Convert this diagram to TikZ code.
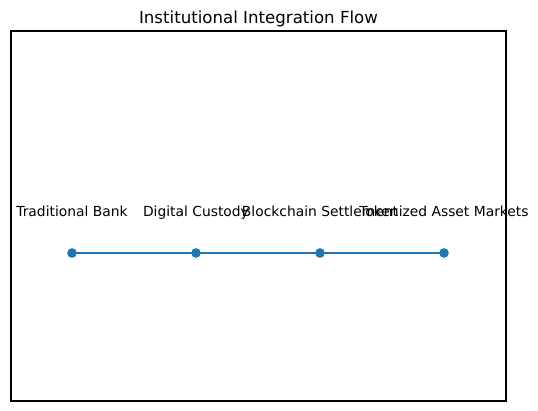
\documentclass[tikz,border=0pt]{standalone}
\usepackage{fontspec}
\setmainfont{DejaVu Sans}
\usepackage{xcolor}
\usetikzlibrary{positioning}
\definecolor{flowblue}{RGB}{31,119,180}
\tikzset{
  stage/.style={circle, fill=flowblue, inner sep=0pt, minimum size=7pt},
  stagelabel/.style={anchor=base, inner sep=0pt, font=\fontsize{10}{12}\selectfont},
  flowline/.style={line width=1.5pt, flowblue},
  axesframe/.style={draw=black, line width=0.8pt}
}
\begin{document}
\begin{tikzpicture}[x=0.01in, y=-0.01in]
  \useasboundingbox (0,0) rectangle (538,411);
  % axes box and title
  \draw[axesframe] (11,31) rectangle (506,401);
  \node[anchor=base, inner sep=0pt, font=\fontsize{12}{14}\selectfont] (title) at (258.5,24) {Institutional Integration Flow};

  % integration stages
  \node[stage] (bank) at (72,253) {};
  \node[stage] (custody) at (196,253) {};
  \node[stage] (chain) at (320,253) {};
  \node[stage] (markets) at (444,253) {};
  \draw[flowline] (bank.center) -- (custody.center) -- (chain.center) -- (markets.center);

  \node[stagelabel] (bankl) at (72,217) {Traditional Bank};
  \node[stagelabel] (custodyl) at (196,217) {Digital Custody};
  \node[stagelabel] (chainl) at (320,217) {Blockchain Settlement};
  \node[stagelabel] (marketsl) at (444,217) {Tokenized Asset Markets};
\end{tikzpicture}
\end{document}
